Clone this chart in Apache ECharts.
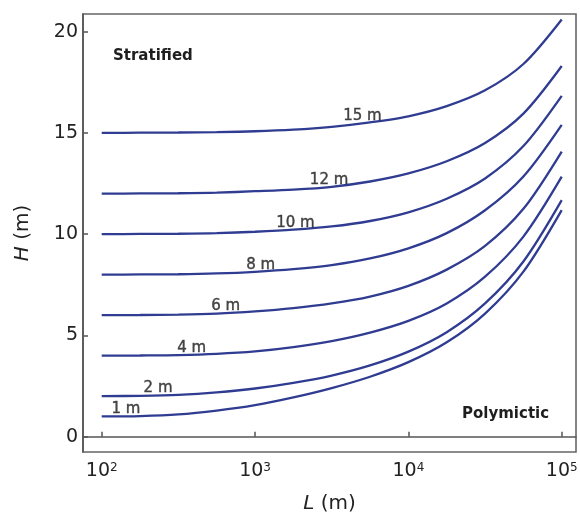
<!DOCTYPE html>
<html>
<head>
<meta charset="utf-8">
<script src="https://cdn.jsdelivr.net/npm/echarts@6/dist/echarts.min.js"></script>
<style>
html,body{margin:0;padding:0;background:#fff;}
#chart{width:580px;height:516px;}
</style>
</head>
<body>
<div id="chart"></div>
<script>
// Lake length L (m) sample points (quarter-decade steps)
const lengths = [100, 178, 316, 562, 1000, 1778, 3162, 5623, 10000, 17783, 31623, 56234, 100000];
// H (m) for each thermocline-depth curve
const h1m  = [1.0, 1.02, 1.10, 1.29, 1.56, 1.94, 2.40, 2.96, 3.68, 4.66, 6.08, 8.15, 11.19];
const h2m  = [2.0, 2.02, 2.07, 2.19, 2.38, 2.66, 3.02, 3.52, 4.20, 5.16, 6.58, 8.65, 11.68];
const h4m  = [4.0, 4.01, 4.03, 4.09, 4.21, 4.42, 4.72, 5.14, 5.72, 6.58, 7.90, 9.88, 12.84];
const h6m  = [6.0, 6.01, 6.03, 6.08, 6.19, 6.35, 6.58, 6.92, 7.45, 8.25, 9.42, 11.25, 14.08];
const h8m  = [8.0, 8.01, 8.02, 8.06, 8.14, 8.27, 8.47, 8.80, 9.30, 10.05, 11.18, 12.85, 15.40];
const h10m = [10.0, 10.01, 10.02, 10.05, 10.12, 10.22, 10.38, 10.65, 11.08, 11.75, 12.75, 14.35, 16.83];
const h12m = [12.0, 12.01, 12.02, 12.05, 12.12, 12.20, 12.34, 12.60, 13.00, 13.60, 14.50, 15.95, 18.30];
const h15m = [15.0, 15.01, 15.02, 15.04, 15.08, 15.16, 15.30, 15.52, 15.82, 16.32, 17.10, 18.40, 20.60];
const curveNames = ['1 m', '2 m', '4 m', '6 m', '8 m', '10 m', '12 m', '15 m'];
const curves = [h1m, h2m, h4m, h6m, h8m, h10m, h12m, h15m];
// Curve label anchors (L, H)
const labelL = [144, 233, 386, 644, 1087, 1833, 3040, 5010];
const labelH = [1.36, 2.40, 4.38, 6.44, 8.48, 10.56, 12.66, 15.82];
const yTicks = [0, 5, 10, 15, 20];

const lineColor = '#2f3c91';
const axisColor = '#555';
const textColor = '#222';

const series = curves.map((c, i) => ({
  name: curveNames[i],
  type: 'line',
  data: lengths.map((L, j) => [L, c[j]]),
  smooth: 0.3,
  showSymbol: false,
  symbol: 'none',
  lineStyle: { color: lineColor, width: 2.3 },
  silent: true,
  z: 3
}));

series.push({
  name: 'labels',
  type: 'scatter',
  symbolSize: 0,
  data: labelL.map((L, i) => [L, labelH[i], curveNames[i]]),
  label: {
    show: true,
    position: 'inside',
    formatter: p => p.data[2],
    fontFamily: 'DejaVu Sans',
    fontSize: 15,
    color: '#1a1a1a',
    textBorderColor: '#1a1a1a',
    textBorderWidth: 0.4
  },
  silent: true,
  z: 4
});

const chart = echarts.init(document.getElementById('chart'), null, { renderer: 'canvas' });
chart.setOption({
  backgroundColor: '#fff',
  animation: false,
  grid: {
    left: 83, right: 4, top: 14, bottom: 64,
    outerBoundsMode: 'none',
    containLabel: false,
    show: true, borderColor: '#666', borderWidth: 1.6
  },
  xAxis: {
    type: 'log',
    logBase: 10,
    min: 75.5,
    max: 123900,
    name: '{i|L} (m)',
    nameLocation: 'middle',
    nameGap: 42,
    nameTextStyle: {
      fontFamily: 'DejaVu Sans', fontSize: 20, color: textColor,
      rich: { i: { fontFamily: 'DejaVu Sans', fontStyle: 'italic', fontSize: 20, color: textColor } }
    },
    axisLine: { show: true, lineStyle: { color: axisColor, width: 1.6 } },
    axisTick: { show: true, inside: true, length: 5, lineStyle: { color: axisColor, width: 1.5 } },
    minorTick: { show: false },
    splitLine: { show: false },
    axisLabel: {
      showMinLabel: false,
      showMaxLabel: false,
      margin: 10,
      formatter: v => {
        const e = Math.log10(v);
        if (Math.abs(e - Math.round(e)) > 1e-6) return '';
        return '{b|10}{s|' + Math.round(e) + '}';
      },
      rich: {
        b: { fontFamily: 'DejaVu Sans', fontSize: 19, color: textColor },
        s: { fontFamily: 'DejaVu Sans', fontSize: 12, color: textColor, verticalAlign: 'top' }
      }
    }
  },
  yAxis: {
    type: 'value',
    min: -0.755,
    max: 20.87,
    name: '{i|H} (m)',
    nameLocation: 'middle',
    nameGap: 50,
    nameRotate: 90,
    nameTextStyle: {
      fontFamily: 'DejaVu Sans', fontSize: 20, color: textColor,
      rich: { i: { fontFamily: 'DejaVu Sans', fontStyle: 'italic', fontSize: 20, color: textColor } }
    },
    axisLine: { show: true, lineStyle: { color: axisColor, width: 1.6 } },
    axisTick: { show: true, inside: true, length: 5, lineStyle: { color: axisColor, width: 1.5 } },
    splitLine: { show: false },
    axisLabel: {
      showMinLabel: false,
      showMaxLabel: false,
      margin: 5,
      fontFamily: 'DejaVu Sans',
      fontSize: 19,
      color: textColor,
      formatter: v => (yTicks.some(t => Math.abs(t - v) < 1e-6) ? String(Math.round(v)) : '')
    }
  },
  graphic: [
    { type: 'text', left: 113, top: 49,
      style: { text: 'Stratified', font: 'bold 15px "DejaVu Sans"', fill: '#1e1e1e' } },
    { type: 'text', left: 462, top: 407,
      style: { text: 'Polymictic', font: 'bold 15px "DejaVu Sans"', fill: '#1e1e1e' } }
  ],
  series: series
});
</script>
</body>
</html>
